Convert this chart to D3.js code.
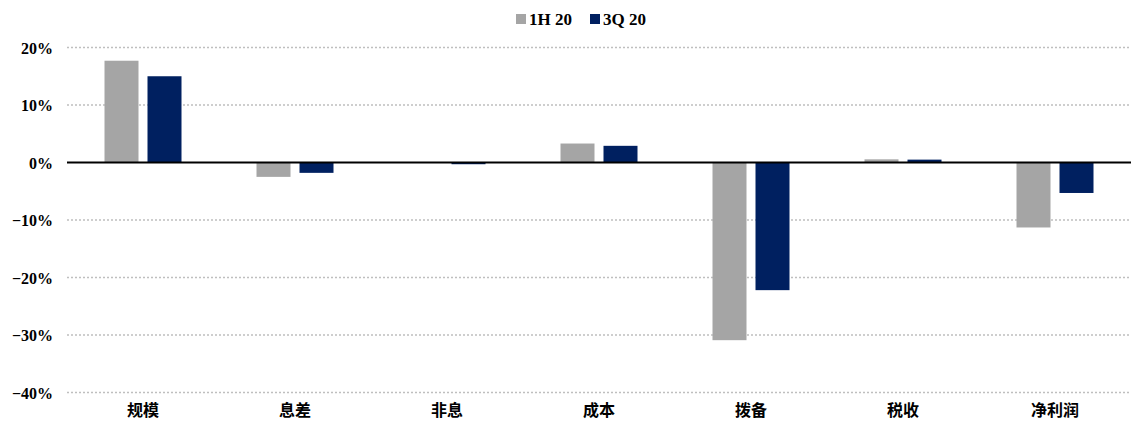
<!DOCTYPE html>
<html>
<head>
<meta charset="utf-8">
<script src="https://cdn.jsdelivr.net/npm/d3@7"></script>
<style>
  body { margin: 0; background: #fff; overflow: hidden; }
</style>
</head>
<body>
<div id="chart"></div>
<script>
// Data
const categories = ["规模", "息差", "非息", "成本", "拨备", "税收", "净利润"];
const seriesNames = ["1H 20", "3Q 20"];
const values1H20 = [17.7, -2.5, -0.05, 3.3, -30.9, 0.55, -11.3];
const values3Q20 = [15.0, -1.8, -0.3, 2.9, -22.2, 0.5, -5.3];
const yTicks = [20, 10, 0, -10, -20, -30, -40];
const colors = ["#A5A5A5", "#002060"];

const width = 1131, height = 421;
const margin = { top: 47.5, right: 0, bottom: 28.5, left: 67 };
const innerWidth = width - margin.left - margin.right;
const innerHeight = height - margin.top - margin.bottom;

const svg = d3.select("#chart").append("svg")
    .attr("width", width)
    .attr("height", height)
    .style("display", "block");

const g = svg.append("g")
    .attr("transform", `translate(${margin.left},${margin.top})`);

// Scales
const x = d3.scaleBand()
    .domain(categories)
    .range([0, innerWidth]);

const y = d3.scaleLinear()
    .domain([-40, 20])
    .range([innerHeight, 0]);

const barW = 34, gap = 9;

// Grid lines (dotted)
g.selectAll(".grid")
    .data(yTicks.filter(d => d !== 0))
    .enter()
    .append("line")
    .attr("x1", 0)
    .attr("x2", innerWidth)
    .attr("y1", d => y(d))
    .attr("y2", d => y(d))
    .attr("stroke", "#BFBFBF")
    .attr("stroke-width", 1.5)
    .attr("stroke-dasharray", "2,2");

// Y-axis labels
g.selectAll(".ylabel")
    .data(yTicks)
    .enter()
    .append("text")
    .attr("x", -14)
    .attr("y", d => y(d) + 6)
    .attr("text-anchor", "end")
    .attr("font-family", "Liberation Serif, serif")
    .attr("font-weight", "bold")
    .attr("font-size", 16)
    .attr("fill", "#000")
    .text(d => (d < 0 ? "\u2212" + Math.abs(d) : d) + "%");

// Bars
const series = [values1H20, values3Q20];
series.forEach((vals, si) => {
    g.selectAll(".bar" + si)
        .data(categories)
        .enter()
        .append("rect")
        .attr("x", c => x(c) + x.bandwidth() / 2 + (si === 0 ? -(gap / 2) - barW : gap / 2))
        .attr("y", (c, i) => y(Math.max(0, vals[i])))
        .attr("width", barW)
        .attr("height", (c, i) => Math.abs(y(vals[i]) - y(0)))
        .attr("fill", colors[si]);
});

// Zero line
g.append("line")
    .attr("x1", 0)
    .attr("x2", innerWidth)
    .attr("y1", y(0))
    .attr("y2", y(0))
    .attr("stroke", "#000")
    .attr("stroke-width", 2);

// X-axis labels
g.selectAll(".xlabel")
    .data(categories)
    .enter()
    .append("text")
    .attr("x", c => x(c) + x.bandwidth() / 2)
    .attr("y", innerHeight + 23)
    .attr("text-anchor", "middle")
    .attr("font-family", "Noto Sans CJK SC, sans-serif")
    .attr("font-weight", "bold")
    .attr("font-size", 16)
    .attr("fill", "#000")
    .text(c => c);

// Legend
const legend = svg.append("g").attr("transform", "translate(516,19)");
const legendX = [0, 74];
seriesNames.forEach((name, i) => {
    const lg = legend.append("g").attr("transform", `translate(${legendX[i]},0)`);
    lg.append("rect")
        .attr("x", 0)
        .attr("y", -5)
        .attr("width", 10)
        .attr("height", 10)
        .attr("fill", colors[i]);
    lg.append("text")
        .attr("x", 13)
        .attr("y", 6)
        .attr("font-family", "Liberation Serif, serif")
        .attr("font-weight", "bold")
        .attr("font-size", 17)
        .attr("fill", "#000")
        .text(name);
});
</script>
</body>
</html>
